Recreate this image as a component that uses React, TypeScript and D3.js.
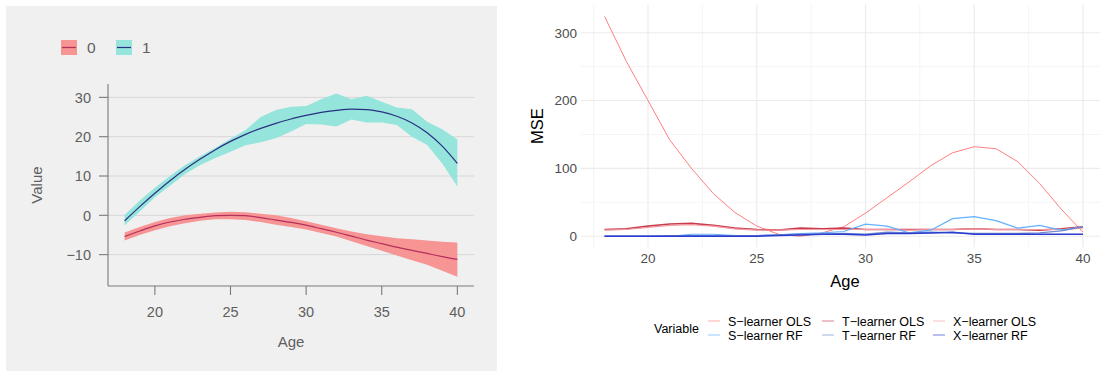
import React from "react";
import * as d3 from "d3";

// ages shared by both panels
const ages = [18, 19, 20, 21, 22, 23, 24, 25, 26, 27, 28, 29, 30, 31, 32, 33, 34, 35, 36, 37, 38, 39, 40];

// left panel: fitted value with ribbon, per group
const fit0 = [-5.4, -4.0, -2.7, -1.7, -1.0, -0.5, -0.1, 0.0, -0.1, -0.6, -1.2, -1.8, -2.5, -3.4, -4.3, -5.3, -6.3, -7.2, -8.1, -8.9, -9.7, -10.5, -11.2];
const upper0 = [-4.4, -3.0, -1.7, -0.7, 0.0, 0.4, 0.7, 0.9, 0.8, 0.4, 0.0, -0.7, -1.5, -2.4, -3.3, -4.1, -4.8, -5.3, -5.8, -6.1, -6.4, -6.7, -6.9];
const lower0 = [-6.4, -5.0, -3.8, -2.8, -2.0, -1.4, -1.0, -1.0, -1.2, -1.7, -2.4, -3.0, -3.6, -4.5, -5.4, -6.6, -7.8, -9.0, -10.2, -11.4, -12.6, -14.1, -15.6];
const fit1 = [-1.4, 2.2, 5.6, 8.8, 11.7, 14.3, 16.7, 18.8, 20.6, 22.1, 23.4, 24.5, 25.4, 26.2, 26.7, 27.0, 26.9, 26.3, 25.2, 23.5, 21.0, 17.6, 13.2];
const upper1 = [0.1, 3.8, 7.0, 10.0, 12.8, 15.0, 17.2, 19.5, 21.7, 25.0, 26.8, 27.6, 27.8, 29.5, 31.0, 29.5, 30.4, 28.9, 27.4, 27.0, 23.8, 21.9, 19.3];
const lower1 = [-2.5, 1.0, 4.6, 7.5, 10.5, 12.8, 14.6, 16.2, 17.8, 18.6, 19.6, 21.3, 23.2, 23.1, 22.6, 24.4, 23.6, 23.6, 23.0, 20.0, 17.9, 13.2, 7.3];
const leftYTicks = [-10, 0, 10, 20, 30];
const xTicks = [20, 25, 30, 35, 40];

// right panel: MSE per learner
const learners = ["S−learner OLS", "T−learner OLS", "X−learner OLS", "S−learner RF", "T−learner RF", "X−learner RF"];
const sOls = [324, 258, 200, 142, 100, 63, 35, 15, 3, 0, 5, 14, 34, 57, 80, 104, 123, 132, 129, 110, 78, 40, 6];
const tOls = [10, 11, 15, 18, 19, 16, 12, 10, 9, 12, 11, 12, 10, 10, 10, 10, 10, 11, 10, 10, 9, 11, 14];
const xOls = [9, 10, 13, 16, 17, 15, 11, 9, 9, 10, 10, 10, 10, 10, 9, 10, 10, 11, 10, 10, 10, 10, 12];
const sRf = [0, 0, 0, 0, 3, 3, 1, 1, 2, 4, 5, 7, 18, 15, 5, 9, 26, 29, 23, 12, 16, 9, 14];
const tRf = [0, 0, 0, 1, 1, 1, 1, 1, 2, 3, 3, 4, 3, 6, 5, 6, 5, 4, 4, 4, 5, 8, 14];
const xRf = [0, 0, 0, 0, 0, 0, 0, 0, 1, 2, 3, 3, 2, 4, 4, 5, 6, 3, 3, 3, 3, 3, 3];
const rightYTicks = [0, 100, 200, 300];

const lineColors = ["#ff7f7f", "#c83c50", "#f39aa0", "#63b1ff", "#7088cc", "#2a3bd1"];
const lineWidths = [1, 1.6, 1.2, 1.2, 1.4, 1.5];

const font = "'Liberation Sans', Arial, sans-serif";

function LeftPanel() {
  const x = d3.scaleLinear().domain([16.9, 41.1]).range([108, 474]);
  const y = d3.scaleLinear().domain([-17.9, 33.4]).range([285.7, 84]);
  const gray = "#5f5f5f";

  const area = (lo: number[], hi: number[]) =>
    d3
      .area<number>()
      .x((a) => x(a))
      .y0((_, i) => y(lo[i]))
      .y1((_, i) => y(hi[i]))(ages) || "";
  const line = (v: number[]) =>
    d3
      .line<number>()
      .x((a) => x(a))
      .y((_, i) => y(v[i]))
      .curve(d3.curveMonotoneX)(ages) || "";

  const groups = [
    { key: "0", lo: lower0, hi: upper0, fit: fit0, fill: "#f79494", stroke: "#b3305c" },
    { key: "1", lo: lower1, hi: upper1, fit: fit1, fill: "#95e5dc", stroke: "#2b3080" },
  ];

  return (
    <g fontFamily={font}>
      <rect x={6} y={6} width={491} height={365} fill="#f0f0f0" />
      {leftYTicks.map((t) => (
        <line key={t} x1={108} x2={474} y1={y(t)} y2={y(t)} stroke="#d6d6d6" strokeWidth={1} />
      ))}
      {groups.map((g) => (
        <path key={"a" + g.key} d={area(g.lo, g.hi)} fill={g.fill} />
      ))}
      {groups.map((g) => (
        <path key={"l" + g.key} d={line(g.fit)} fill="none" stroke={g.stroke} strokeWidth={1.2} />
      ))}
      <line x1={108} x2={108} y1={84} y2={286} stroke="#7a7a7a" strokeWidth={1.1} />
      <line x1={108} x2={474} y1={286} y2={286} stroke="#7a7a7a" strokeWidth={1.1} />
      {leftYTicks.map((t) => (
        <g key={t}>
          <line x1={99} x2={108} y1={y(t)} y2={y(t)} stroke="#7a7a7a" strokeWidth={1.1} />
          <text x={91} y={y(t)} dy="0.36em" textAnchor="end" fontSize={14.5} fill={gray}>
            {t < 0 ? "−" + Math.abs(t) : t}
          </text>
        </g>
      ))}
      {xTicks.map((t) => (
        <g key={t}>
          <line x1={x(t)} x2={x(t)} y1={286} y2={295} stroke="#7a7a7a" strokeWidth={1.1} />
          <text x={x(t)} y={317} textAnchor="middle" fontSize={14.5} fill={gray}>
            {t}
          </text>
        </g>
      ))}
      <text x={291} y={347} textAnchor="middle" fontSize={15} fill={gray}>
        Age
      </text>
      <text transform="translate(42,185) rotate(-90)" textAnchor="middle" fontSize={15} fill={gray}>
        Value
      </text>
      {groups.map((g, i) => (
        <g key={"k" + g.key} transform={`translate(${61 + i * 55},40)`}>
          <rect width={16} height={15} fill={g.fill} />
          <line x1={1} x2={15} y1={7.5} y2={7.5} stroke={g.stroke} strokeWidth={1.2} />
          <text x={26} y={13} fontSize={15.5} fill={gray}>
            {g.key}
          </text>
        </g>
      ))}
    </g>
  );
}

function RightPanel() {
  const x = d3.scaleLinear().domain([16.9, 41.1]).range([580.6, 1106.9]);
  const y = d3.scaleLinear().domain([-16.25, 341.25]).range([247.3, 4.7]);
  const series = [sOls, tOls, xOls, sRf, tRf, xRf];
  const minorX = [17.5, 22.5, 27.5, 32.5, 37.5];
  const minorY = [50, 150, 250];

  const line = (v: number[]) =>
    d3
      .line<number>()
      .x((a) => x(a))
      .y((_, i) => y(v[i]))(ages) || "";

  const cols = [708, 822, 933];
  const rows = [321, 335];

  return (
    <g fontFamily={font}>
      {minorX.map((t) => (
        <line key={"mx" + t} x1={x(t)} x2={x(t)} y1={4.7} y2={247.3} stroke="#f2f2f2" strokeWidth={0.8} />
      ))}
      {minorY.map((t) => (
        <line key={"my" + t} x1={580.6} x2={1100} y1={y(t)} y2={y(t)} stroke="#f2f2f2" strokeWidth={0.8} />
      ))}
      {xTicks.map((t) => (
        <line key={"gx" + t} x1={x(t)} x2={x(t)} y1={4.7} y2={247.3} stroke="#ebebeb" strokeWidth={1.1} />
      ))}
      {rightYTicks.map((t) => (
        <line key={"gy" + t} x1={580.6} x2={1100} y1={y(t)} y2={y(t)} stroke="#ebebeb" strokeWidth={1.1} />
      ))}
      {series.map((s, i) => (
        <path key={learners[i]} d={line(s)} fill="none" stroke={lineColors[i]} strokeWidth={lineWidths[i]} />
      ))}
      {rightYTicks.map((t) => (
        <text key={t} x={577} y={y(t)} dy="0.36em" textAnchor="end" fontSize={13.5} fill="#4d4d4d">
          {t}
        </text>
      ))}
      {xTicks.map((t) => (
        <text key={t} x={x(t)} y={263} textAnchor="middle" fontSize={13.5} fill="#4d4d4d">
          {t}
        </text>
      ))}
      <text x={845} y={287} textAnchor="middle" fontSize={16.5} fill="#000">
        Age
      </text>
      <text transform="translate(543,126) rotate(-90)" textAnchor="middle" fontSize={16.5} fill="#000">
        MSE
      </text>
      <text x={654} y={333} fontSize={12.5} fill="#000">
        Variable
      </text>
      {learners.map((name, i) => {
        const col = i % 3;
        const row = Math.floor(i / 3);
        return (
          <g key={name} transform={`translate(${cols[col]},${rows[row]})`}>
            <line x1={0} x2={12} y1={0} y2={0} stroke={lineColors[i]} strokeOpacity={0.55} strokeWidth={1.2} />
            <text x={20} y={0} dy="0.36em" fontSize={12.5} fill="#000">
              {name}
            </text>
          </g>
        );
      })}
    </g>
  );
}

export default function App() {
  return (
    <svg
      width={1100}
      height={371}
      style={{ position: "absolute", left: 0, top: 0, background: "#fff" }}
    >
      <LeftPanel />
      <RightPanel />
    </svg>
  );
}
